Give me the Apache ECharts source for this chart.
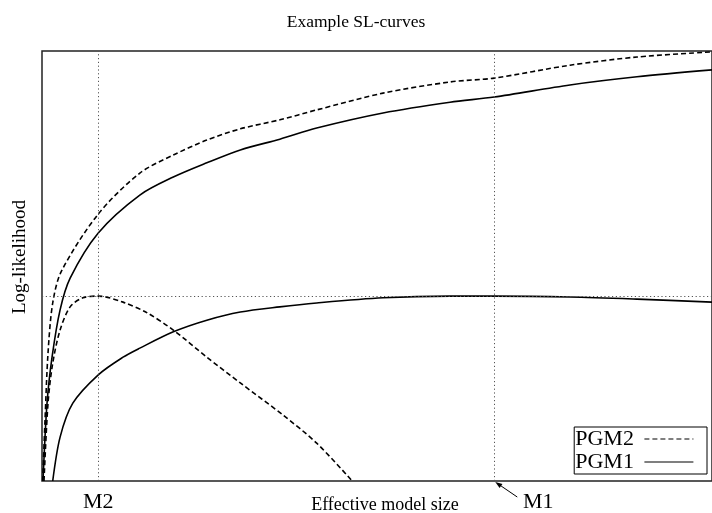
<!DOCTYPE html>
<html>
<head>
<meta charset="utf-8">
<script src="https://cdn.jsdelivr.net/npm/echarts@6/dist/echarts.min.js"></script>
<style>
  html, body { margin: 0; padding: 0; background: #fff; }
  #chart { width: 712px; height: 513px; }
</style>
</head>
<body>
<div id="chart"></div>
<script>
// Effective model size (0-100) against log-likelihood (0-100), read as [size, logL]
const pgm2Fit = [[0.1,0],[0.45,14.2],[0.9,29.8],[1.6,41.4],[2.9,48.8],[8.4,62.1],[14.6,71.6],[19.6,75.8],[24.6,79.3],[29.6,81.9],[35.5,84.0],[41.0,86.3],[50.9,90.2],[60.9,92.8],[67.5,93.7],[78.8,96.7],[88.8,98.6],[100,99.8]];
const pgm1Fit = [[0.15,0],[0.75,18.1],[1.5,28.8],[2.7,39.8],[4.2,47.2],[8.4,57.7],[14.6,66.5],[19.6,70.7],[24.6,74.0],[29.6,77.0],[35.5,79.5],[41.0,82.1],[50.9,85.6],[60.9,88.1],[67.5,89.3],[78.8,92.1],[88.8,94.0],[100,95.6]];
const pgm2Score = [[0.3,0],[0.9,18.1],[1.6,27.4],[2.7,35.1],[4.2,40.5],[6.1,42.6],[8.4,43.0],[12.1,41.6],[15.7,39.1],[19.6,35.1],[24.6,28.8],[29.6,22.8],[36.0,15.3],[41.0,8.8],[46.3,0]];
const pgm1Score = [[1.6,0],[2.7,10.2],[4.6,18.1],[8.4,24.7],[12.1,28.8],[14.6,30.9],[19.6,34.7],[24.6,37.4],[29.6,39.3],[35.5,40.5],[41.0,41.4],[50.9,42.6],[60.9,43.0],[67.5,43.0],[78.8,42.8],[88.8,42.3],[100,41.6]];

// Optimum sizes and the shared maximum score
const markM2 = 8.4;
const markM1 = 67.5;
const bestScore = 43.0;

const legendNames = ['PGM2', 'PGM1'];
const serif = '"Liberation Serif", "Times New Roman", serif';
const dashed = [5, 3];
const dotted = [1.2, 2.6];

const chart = echarts.init(document.getElementById('chart'));

function curve(name, data, dash) {
  return {
    name: name,
    type: 'line',
    data: data,
    showSymbol: false,
    symbol: 'none',
    smooth: 0.3,
    clip: true,
    silent: true,
    animation: false,
    color: '#000',
    itemStyle: { color: '#000' },
    lineStyle: { color: '#000', width: 1.6, type: dash }
  };
}

const guides = {
  type: 'line',
  data: [],
  silent: true,
  animation: false,
  markLine: {
    symbol: 'none',
    silent: true,
    animation: false,
    label: { show: false },
    lineStyle: { color: '#555', width: 1, type: dotted },
    data: [{ xAxis: markM2 }, { xAxis: markM1 }, { yAxis: bestScore }]
  }
};

chart.setOption({
  animation: false,
  backgroundColor: '#fff',
  title: {
    text: 'Example SL-curves',
    left: 'center',
    top: 8,
    textStyle: { fontFamily: serif, fontSize: 17.5, fontWeight: 'normal', color: '#000' }
  },
  grid: {
    left: 42, right: 0, top: 51, bottom: 32,
    containLabel: false,
    outerBoundsMode: 'none',
    show: true, borderColor: '#222', borderWidth: 1.5, backgroundColor: 'transparent'
  },
  xAxis: {
    type: 'value', min: 0, max: 100,
    name: 'Effective model size',
    nameLocation: 'middle', nameGap: 15,
    nameTextStyle: { fontFamily: serif, fontSize: 18, color: '#000', padding: [0, 0, 0, 16] },
    axisLine: { show: false }, axisTick: { show: false },
    axisLabel: { show: false }, splitLine: { show: false }
  },
  yAxis: {
    type: 'value', min: 0, max: 100,
    axisLine: { show: false }, axisTick: { show: false },
    axisLabel: { show: false }, splitLine: { show: false }
  },
  legend: {
    data: legendNames,
    orient: 'vertical',
    align: 'right',
    right: 5,
    bottom: 39,
    itemWidth: 49,
    itemHeight: 10,
    itemGap: 1,
    padding: [1, 13, 1, 1],
    borderColor: '#000',
    borderWidth: 1,
    backgroundColor: '#fff',
    selectedMode: false,
    itemStyle: { opacity: 0 },
    lineStyle: { width: 1.2 },
    formatter: function (n) { return n + ' '; },
    textStyle: { fontFamily: serif, fontSize: 22, color: '#000', lineHeight: 22 }
  },
  series: [
    guides,
    curve('PGM2', pgm2Fit, dashed),
    curve('PGM1', pgm1Fit, 'solid'),
    curve('PGM2', pgm2Score, dashed),
    curve('PGM1', pgm1Score, 'solid')
  ]
});

// Labels for the two optimum sizes, placed from the axis scale
const p2 = chart.convertToPixel({ gridIndex: 0 }, [markM2, 0]);
const p1 = chart.convertToPixel({ gridIndex: 0 }, [markM1, 0]);
const cornerTL = chart.convertToPixel({ gridIndex: 0 }, [0, 100]);
const labelFont = '22px ' + serif;
const tipX = p1[0] + 1, tipY = p1[1] + 1;
const tailX = p1[0] + 23, tailY = p1[1] + 16;
const dx = tipX - tailX, dy = tipY - tailY;
const len = Math.sqrt(dx * dx + dy * dy);
const ux = dx / len, uy = dy / len;
const headLen = 7, headHalf = 2.5;
const bx = tipX - ux * headLen, by = tipY - uy * headLen;

chart.setOption({
  graphic: [
    { type: 'text', x: cornerTL[0] - 22, y: (cornerTL[1] + p1[1]) / 2 - 9, rotation: Math.PI / 2, silent: true,
      style: { text: 'Log-likelihood', font: '19px ' + serif, fill: '#000', align: 'center', verticalAlign: 'middle' } },
    { type: 'text', x: p2[0], y: p2[1] + 21, silent: true,
      style: { text: 'M2', font: labelFont, fill: '#000', align: 'center', verticalAlign: 'middle' } },
    { type: 'text', x: p1[0] + 44, y: p1[1] + 21, silent: true,
      style: { text: 'M1', font: labelFont, fill: '#000', align: 'center', verticalAlign: 'middle' } },
    { type: 'line', silent: true,
      shape: { x1: tailX, y1: tailY, x2: bx, y2: by },
      style: { stroke: '#000', lineWidth: 1 } },
    { type: 'polygon', silent: true,
      shape: { points: [[tipX, tipY], [bx - uy * headHalf, by + ux * headHalf], [bx + uy * headHalf, by - ux * headHalf]] },
      style: { fill: '#000' } }
  ]
});
</script>
</body>
</html>
